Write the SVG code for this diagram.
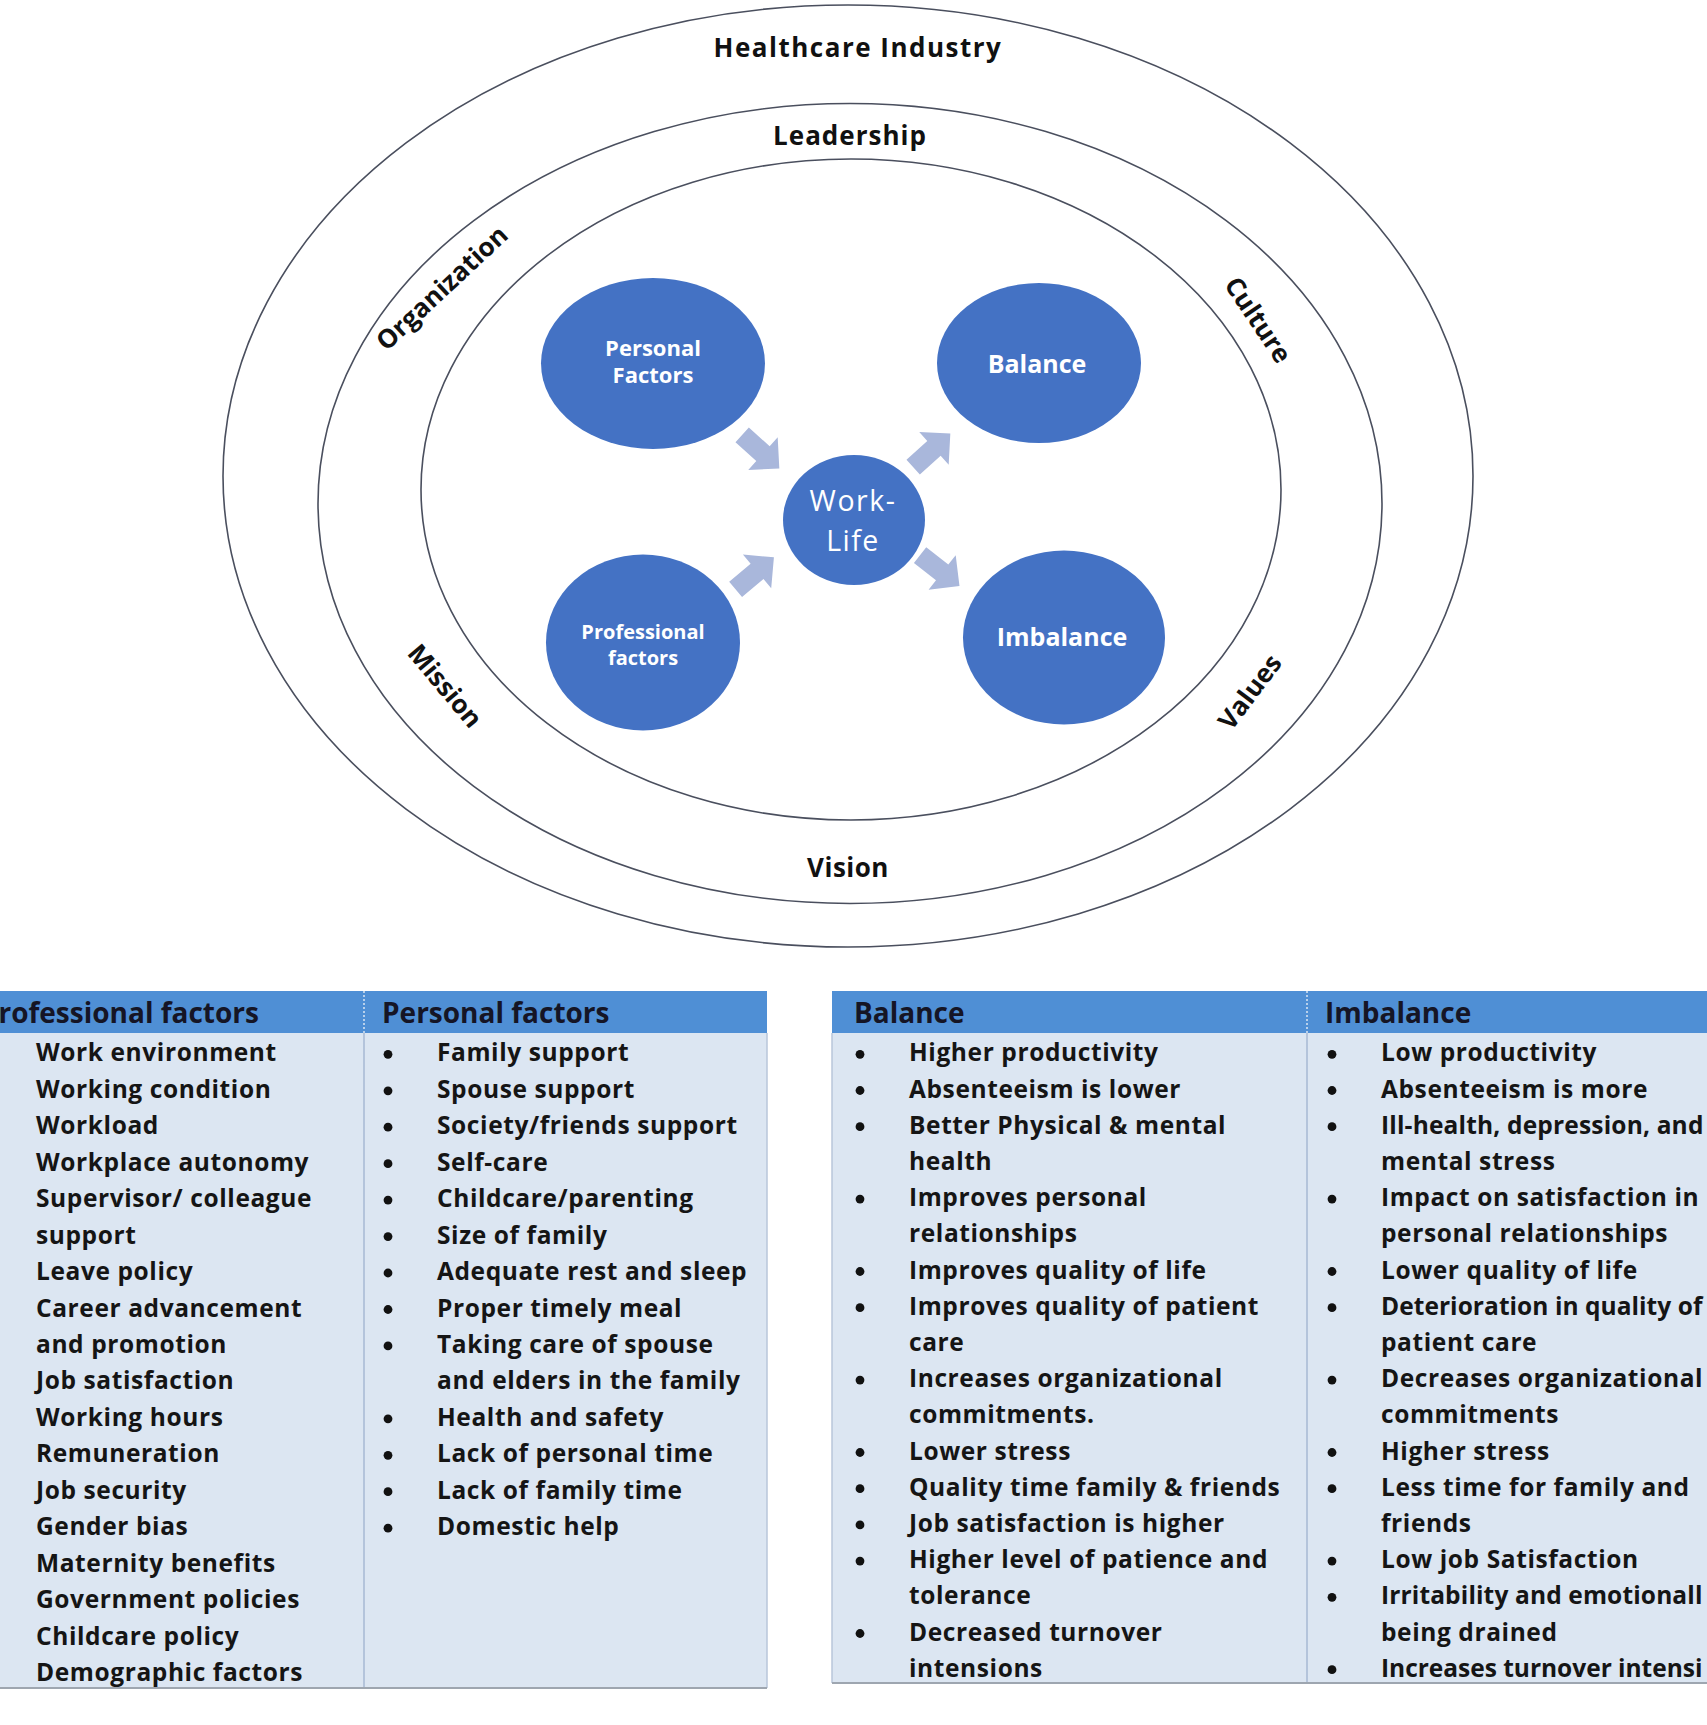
<svg xmlns="http://www.w3.org/2000/svg" width="1707" height="1725" viewBox="0 0 1707 1725">
<style>
text { font-family: "Open Sans", "Liberation Sans", sans-serif; }
.ring { fill: none; stroke: #4a4f5e; stroke-width: 1.6; }
.node { fill: #4472C4; }
.arrow { fill: #A9B7DB; }
.ct { fill: #fff; font-weight: 700; text-anchor: middle; }
.wl { fill: #fff; font-weight: 400; text-anchor: middle; font-size: 28.5px; letter-spacing: 1.5px; }
.ol { fill: #111; font-weight: 700; text-anchor: middle; font-size: 26px; }
.hdr { fill: #4F8FD5; }
.body { fill: #DCE6F2; }
.ht { fill: #151525; font-weight: 700; font-size: 28px; }
.it { fill: #151515; font-weight: 700; font-size: 24.5px; letter-spacing: 0.6px; }
.bul { fill: #111; }
</style>
<rect width="1707" height="1725" fill="#fff"/>

<g id="rings">
  <ellipse id="ring-healthcare" class="ring" cx="848" cy="476" rx="625" ry="471"/>
  <ellipse id="ring-leadership" class="ring" cx="850" cy="503.5" rx="532" ry="400"/>
  <ellipse id="ring-inner" class="ring" cx="851" cy="489.5" rx="430" ry="330.5"/>
</g>

<g id="ring-labels">
  <text class="ol" x="858" y="57" font-size="30" letter-spacing="1.5">Healthcare Industry</text>
  <text class="ol" x="850" y="145" font-size="25" font-weight="600" letter-spacing="1">Leadership</text>
  <text class="ol" x="848" y="877" font-size="28" font-weight="600" letter-spacing="0.5">Vision</text>
  <text class="ol" transform="translate(442,288) rotate(-43)" x="0" y="9">Organization</text>
  <text class="ol" transform="translate(1258,320) rotate(56)" x="0" y="9">Culture</text>
  <text class="ol" transform="translate(445,686) rotate(50)" x="0" y="9">Mission</text>
  <text class="ol" transform="translate(1250,692) rotate(-53)" x="0" y="9">Values</text>
</g>

<g id="connectors">
  <polygon class="arrow" transform="translate(760,451) rotate(42)" points="-24,-10 4,-10 4,-22 26,0 4,22 4,10 -24,10"/>
  <polygon class="arrow" transform="translate(931,451) rotate(-42)" points="-24,-10 4,-10 4,-22 26,0 4,22 4,10 -24,10"/>
  <polygon class="arrow" transform="translate(754,574) rotate(-40)" points="-24,-10 4,-10 4,-22 26,0 4,22 4,10 -24,10"/>
  <polygon class="arrow" transform="translate(939,570) rotate(38)" points="-24,-10 4,-10 4,-22 26,0 4,22 4,10 -24,10"/>
</g>

<g id="node-personal">
  <ellipse class="node" cx="653" cy="363.5" rx="112" ry="85.5"/>
  <text class="ct" x="653" y="356" font-size="22">Personal</text>
  <text class="ct" x="653" y="383" font-size="22">Factors</text>
</g>
<g id="node-balance">
  <ellipse class="node" cx="1039" cy="363" rx="102" ry="80"/>
  <text class="ct" x="1037" y="373" font-size="25">Balance</text>
</g>
<g id="node-worklife">
  <ellipse class="node" cx="854" cy="520" rx="71" ry="65"/>
  <text class="wl" x="853" y="511">Work-</text>
  <text class="wl" x="853" y="551">Life</text>
</g>
<g id="node-professional">
  <ellipse class="node" cx="643" cy="642.5" rx="97" ry="88"/>
  <text class="ct" x="643" y="639" font-size="20">Professional</text>
  <text class="ct" x="643" y="665" font-size="20">factors</text>
</g>
<g id="node-imbalance">
  <ellipse class="node" cx="1064" cy="637.5" rx="101" ry="87"/>
  <text class="ct" x="1062" y="646" font-size="25">Imbalance</text>
</g>

<g id="table-factors">
  <rect class="body" x="-2" y="1033" width="769" height="655"/>
  <rect class="hdr" x="-2" y="991" width="769" height="42"/>
  <line x1="364" y1="1033" x2="364" y2="1688" stroke="#A7B9D3" stroke-width="1.5"/>
  <line x1="364" y1="991" x2="364" y2="1033" stroke="#DCE6F2" stroke-width="1.5" stroke-dasharray="2,2"/>
  <line x1="767" y1="1033" x2="767" y2="1688" stroke="#B8C6DA" stroke-width="1.5"/>
  <line x1="-2" y1="1688" x2="767" y2="1688" stroke="#9EA6B0" stroke-width="2"/>
  <text class="ht" x="259" y="1023" text-anchor="end">rofessional factors</text>
  <text class="ht" x="382" y="1023">Personal factors</text>
  <g id="col-professional">
    <text class="it" x="36" y="1061.3">Work environment</text>
    <text class="it" x="36" y="1097.8">Working condition</text>
    <text class="it" x="36" y="1134.2">Workload</text>
    <text class="it" x="36" y="1170.7">Workplace autonomy</text>
    <text class="it" x="36" y="1207.1">Supervisor/ colleague</text>
    <text class="it" x="36" y="1243.6">support</text>
    <text class="it" x="36" y="1280">Leave policy</text>
    <text class="it" x="36" y="1316.5">Career advancement</text>
    <text class="it" x="36" y="1352.9">and promotion</text>
    <text class="it" x="36" y="1389.4">Job satisfaction</text>
    <text class="it" x="36" y="1425.8">Working hours</text>
    <text class="it" x="36" y="1462.3">Remuneration</text>
    <text class="it" x="36" y="1498.7">Job security</text>
    <text class="it" x="36" y="1535.2">Gender bias</text>
    <text class="it" x="36" y="1571.6">Maternity benefits</text>
    <text class="it" x="36" y="1608.1">Government policies</text>
    <text class="it" x="36" y="1644.5">Childcare policy</text>
    <text class="it" x="36" y="1681">Demographic factors</text>
  </g>
  <g id="col-personal">
    <g class="bul">
      <circle cx="388" cy="1054.3" r="4.4"/>
      <circle cx="388" cy="1090.8" r="4.4"/>
      <circle cx="388" cy="1127.2" r="4.4"/>
      <circle cx="388" cy="1163.7" r="4.4"/>
      <circle cx="388" cy="1200.1" r="4.4"/>
      <circle cx="388" cy="1236.6" r="4.4"/>
      <circle cx="388" cy="1273" r="4.4"/>
      <circle cx="388" cy="1309.5" r="4.4"/>
      <circle cx="388" cy="1345.9" r="4.4"/>
      <circle cx="388" cy="1418.8" r="4.4"/>
      <circle cx="388" cy="1455.3" r="4.4"/>
      <circle cx="388" cy="1491.7" r="4.4"/>
      <circle cx="388" cy="1528.2" r="4.4"/>
    </g>
    <text class="it" x="437" y="1061.3">Family support</text>
    <text class="it" x="437" y="1097.8">Spouse support</text>
    <text class="it" x="437" y="1134.2">Society/friends support</text>
    <text class="it" x="437" y="1170.7">Self-care</text>
    <text class="it" x="437" y="1207.1">Childcare/parenting</text>
    <text class="it" x="437" y="1243.6">Size of family</text>
    <text class="it" x="437" y="1280">Adequate rest and sleep</text>
    <text class="it" x="437" y="1316.5">Proper timely meal</text>
    <text class="it" x="437" y="1352.9">Taking care of spouse</text>
    <text class="it" x="437" y="1389.4">and elders in the family</text>
    <text class="it" x="437" y="1425.8">Health and safety</text>
    <text class="it" x="437" y="1462.3">Lack of personal time</text>
    <text class="it" x="437" y="1498.7">Lack of family time</text>
    <text class="it" x="437" y="1535.2">Domestic help</text>
  </g>
</g>

<g id="table-outcomes">
  <rect class="body" x="832" y="1033" width="880" height="650"/>
  <rect class="hdr" x="832" y="991" width="880" height="42"/>
  <line x1="1307" y1="1033" x2="1307" y2="1683" stroke="#A7B9D3" stroke-width="1.5"/>
  <line x1="1307" y1="991" x2="1307" y2="1033" stroke="#DCE6F2" stroke-width="1.5" stroke-dasharray="2,2"/>
  <line x1="832" y1="1033" x2="832" y2="1683" stroke="#B8C6DA" stroke-width="1.5"/>
  <line x1="832" y1="1683" x2="1707" y2="1683" stroke="#9EA6B0" stroke-width="2"/>
  <text class="ht" x="854" y="1023">Balance</text>
  <text class="ht" x="1325" y="1023">Imbalance</text>
  <g id="col-balance">
    <g class="bul">
      <circle cx="860" cy="1054.3" r="4.4"/>
      <circle cx="860" cy="1090.5" r="4.4"/>
      <circle cx="860" cy="1126.7" r="4.4"/>
      <circle cx="860" cy="1199.1" r="4.4"/>
      <circle cx="860" cy="1271.5" r="4.4"/>
      <circle cx="860" cy="1307.7" r="4.4"/>
      <circle cx="860" cy="1380.1" r="4.4"/>
      <circle cx="860" cy="1452.5" r="4.4"/>
      <circle cx="860" cy="1488.7" r="4.4"/>
      <circle cx="860" cy="1524.9" r="4.4"/>
      <circle cx="860" cy="1561.1" r="4.4"/>
      <circle cx="860" cy="1633.5" r="4.4"/>
    </g>
    <text class="it" x="909" y="1061.3">Higher productivity</text>
    <text class="it" x="909" y="1097.5">Absenteeism is lower</text>
    <text class="it" x="909" y="1133.7">Better Physical &amp; mental</text>
    <text class="it" x="909" y="1169.9">health</text>
    <text class="it" x="909" y="1206.1">Improves personal</text>
    <text class="it" x="909" y="1242.3">relationships</text>
    <text class="it" x="909" y="1278.5">Improves quality of life</text>
    <text class="it" x="909" y="1314.7">Improves quality of patient</text>
    <text class="it" x="909" y="1350.9">care</text>
    <text class="it" x="909" y="1387.1">Increases organizational</text>
    <text class="it" x="909" y="1423.3">commitments.</text>
    <text class="it" x="909" y="1459.5">Lower stress</text>
    <text class="it" x="909" y="1495.7">Quality time family &amp; friends</text>
    <text class="it" x="909" y="1531.9">Job satisfaction is higher</text>
    <text class="it" x="909" y="1568.1">Higher level of patience and</text>
    <text class="it" x="909" y="1604.3">tolerance</text>
    <text class="it" x="909" y="1640.5">Decreased turnover</text>
    <text class="it" x="909" y="1676.7">intensions</text>
  </g>
  <g id="col-imbalance">
    <g class="bul">
      <circle cx="1332" cy="1054.3" r="4.4"/>
      <circle cx="1332" cy="1090.5" r="4.4"/>
      <circle cx="1332" cy="1126.7" r="4.4"/>
      <circle cx="1332" cy="1199.1" r="4.4"/>
      <circle cx="1332" cy="1271.5" r="4.4"/>
      <circle cx="1332" cy="1307.7" r="4.4"/>
      <circle cx="1332" cy="1380.1" r="4.4"/>
      <circle cx="1332" cy="1452.5" r="4.4"/>
      <circle cx="1332" cy="1488.7" r="4.4"/>
      <circle cx="1332" cy="1561.1" r="4.4"/>
      <circle cx="1332" cy="1597.3" r="4.4"/>
      <circle cx="1332" cy="1669.7" r="4.4"/>
    </g>
    <text class="it" x="1381" y="1061.3">Low productivity</text>
    <text class="it" x="1381" y="1097.5">Absenteeism is more</text>
    <text class="it" x="1381" y="1133.7" textLength="323">Ill-health, depression, and</text>
    <text class="it" x="1381" y="1169.9">mental stress</text>
    <text class="it" x="1381" y="1206.1">Impact on satisfaction in</text>
    <text class="it" x="1381" y="1242.3">personal relationships</text>
    <text class="it" x="1381" y="1278.5">Lower quality of life</text>
    <text class="it" x="1381" y="1314.7" textLength="322">Deterioration in quality of</text>
    <text class="it" x="1381" y="1350.9">patient care</text>
    <text class="it" x="1381" y="1387.1">Decreases organizational</text>
    <text class="it" x="1381" y="1423.3">commitments</text>
    <text class="it" x="1381" y="1459.5">Higher stress</text>
    <text class="it" x="1381" y="1495.7">Less time for family and</text>
    <text class="it" x="1381" y="1531.9">friends</text>
    <text class="it" x="1381" y="1568.1">Low job Satisfaction</text>
    <text class="it" x="1381" y="1604.3" textLength="322">Irritability and emotionall</text>
    <text class="it" x="1381" y="1640.5">being drained</text>
    <text class="it" x="1381" y="1676.7" textLength="322">Increases turnover intensi</text>
  </g>
</g>
</svg>
